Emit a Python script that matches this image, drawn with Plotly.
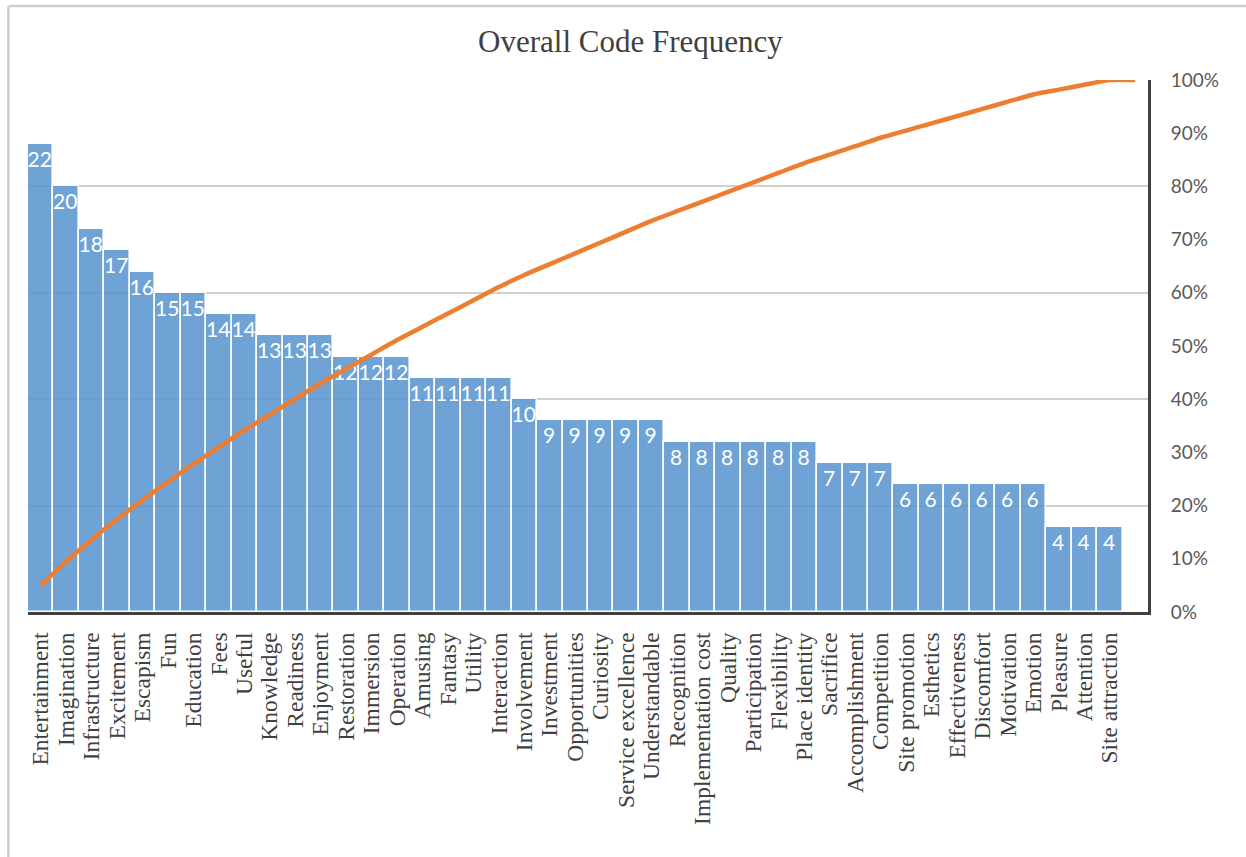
import numpy as np
import plotly.graph_objects as go

# Code categories (sorted by frequency); the trailing blank slot closes the Pareto curve
categories = [
    "Entertainment", "Imagination", "Infrastructure", "Excitement", "Escapism",
    "Fun", "Education", "Fees", "Useful", "Knowledge", "Readiness", "Enjoyment",
    "Restoration", "Immersion", "Operation", "Amusing", "Fantasy", "Utility",
    "Interaction", "Involvement", "Investment", "Opportunities", "Curiosity",
    "Service excellence", "Understandable", "Recognition", "Implementation cost",
    "Quality", "Participation", "Flexibility", "Place identity", "Sacrifice",
    "Accomplishment", "Competition", "Site promotion", "Esthetics",
    "Effectiveness", "Discomfort", "Motivation", "Emotion", "Pleasure",
    "Attention", "Site attraction", " ",
]
frequency = [
    22, 20, 18, 17, 16, 15, 15, 14, 14, 13, 13, 13, 12, 12, 12, 11, 11, 11, 11,
    10, 9, 9, 9, 9, 9, 8, 8, 8, 8, 8, 8, 7, 7, 7, 6, 6, 6, 6, 6, 6, 4, 4, 4, 0,
]
pct_ticks = [0, 0.1, 0.2, 0.3, 0.4, 0.5, 0.6, 0.7, 0.8, 0.9, 1.0]

freq = np.array(frequency, dtype=float)
cumulative = np.cumsum(freq) / freq.sum()
bar_text = [str(v) if v else "" for v in frequency]

SERIF = "Liberation Serif"
SANS = "Lato"
AXIS_DARK = "#404040"

fig = go.Figure()

fig.add_trace(go.Bar(
    x=categories,
    y=frequency,
    text=bar_text,
    textposition="inside",
    insidetextanchor="end",
    textangle=0,
    constraintext="none",
    textfont=dict(family=SANS, size=21, color="white"),
    marker=dict(color="rgb(86,148,207)", opacity=0.85,
                line=dict(color="white", width=1.6)),
    showlegend=False,
    hoverinfo="x+y",
))

fig.add_trace(go.Scatter(
    x=categories,
    y=cumulative,
    yaxis="y2",
    mode="lines",
    line=dict(color="#ED7D31", width=4.5, shape="spline", smoothing=0.6),
    showlegend=False,
    hovertemplate="%{x}: %{y:.0%}<extra></extra>",
))

fig.update_layout(
    width=1246,
    height=857,
    margin=dict(l=28, r=98, t=80, b=245),
    paper_bgcolor="white",
    plot_bgcolor="white",
    bargap=0,
    title=dict(
        text="Overall Code Frequency",
        font=dict(family=SERIF, size=31, color=AXIS_DARK),
        xref="container", x=0.506, xanchor="center",
        yref="container", y=1 - 41 / 857, yanchor="middle",
    ),
    xaxis=dict(
        type="category",
        tickmode="array",
        tickvals=categories,
        ticktext=categories,
        range=[-0.5, len(categories) - 0.5],
        showline=True, linecolor=AXIS_DARK, linewidth=3,
        showgrid=False, ticks="",
        tickangle=-90,
        ticklabelstandoff=8,
        tickfont=dict(family=SERIF, size=23.5, color=AXIS_DARK),
    ),
    yaxis=dict(
        range=[0, 25],
        dtick=5,
        showgrid=True, gridcolor="#d0d0d0", gridwidth=1.5,
        zeroline=False, showticklabels=False, ticks="",
        showline=False,
    ),
    yaxis2=dict(
        overlaying="y",
        side="right",
        range=[0, 1],
        tickvals=pct_ticks,
        tickformat=".0%",
        showgrid=False, zeroline=False,
        showline=True, linecolor=AXIS_DARK, linewidth=3,
        ticks="",
        ticklabelstandoff=16,
        tickfont=dict(family=SANS, size=19, color="#595959"),
    ),
    shapes=[
        dict(type="line", xref="paper", yref="paper",
             x0=-0.0175, x1=1.2, y0=1.0 + 74 / 532, y1=1.0 + 74 / 532,
             line=dict(color="#cfcfcf", width=2.5)),
        dict(type="line", xref="paper", yref="paper",
             x0=-0.0175, x1=-0.0175, y0=-245 / 532, y1=1.0 + 74 / 532,
             line=dict(color="#cfcfcf", width=2.5)),
    ],
)

fig.write_html("out.html")
